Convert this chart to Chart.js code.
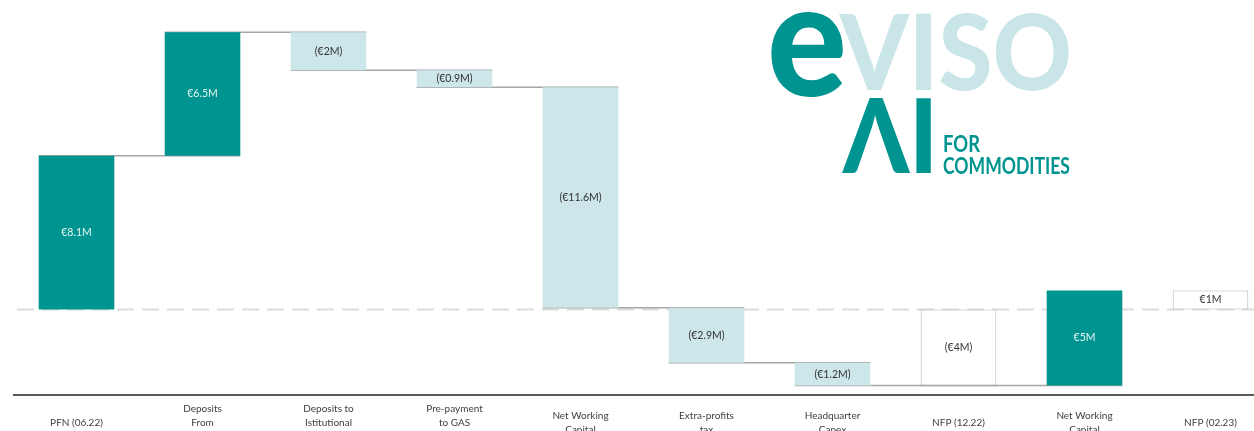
<!DOCTYPE html>
<html>
<head>
<meta charset="utf-8">
<script src="https://cdn.jsdelivr.net/npm/chart.js@4"></script>
<style>
html, body { margin: 0; padding: 0; overflow: hidden; background: #fff; }
#wrap { position: relative; width: 1275px; height: 431px; }
</style>
</head>
<body>
<div id="wrap"><canvas id="myChart"></canvas></div>
<script>
// waterfall steps, in millions of euro
var categories = [
    ['PFN (06.22)'],
    ['Deposits', 'From', ''],
    ['Deposits to', 'Istitutional', ''],
    ['Pre-payment', 'to GAS', ''],
    ['Net Working', 'Capital'],
    ['Extra-profits', 'tax'],
    ['Headquarter', 'Capex'],
    ['NFP (12.22)'],
    ['Net Working', 'Capital'],
    ['NFP (02.23)']
];
var changes = [8.1, 6.5, -2, -0.9, -11.6, -2.9, -1.2, -4, 5, 1];
var barKinds = ['up', 'up', 'down', 'down', 'down', 'down', 'down', 'total', 'up', 'total'];
var valueLabels = ['€8.1M', '€6.5M', '(€2M)', '(€0.9M)', '(€11.6M)', '(€2.9M)', '(€1.2M)', '(€4M)', '€5M', '€1M'];

var teal = '#009490';
var lightBlue = '#cde6ea';

// floating bar ranges from the running total
var ranges = [];
var running = 0;
changes.forEach(function(v, i) {
    if (barKinds[i] === 'total') {
        ranges.push([0, v]);
        running = v;
    } else {
        ranges.push([running, running + v]);
        running += v;
    }
});

var fillColors = barKinds.map(function(k) {
    return k === 'up' ? teal : (k === 'down' ? lightBlue : '#ffffff');
});
var edgeColors = barKinds.map(function(k) {
    return k === 'total' ? '#b5b5b5' : 'rgba(0,0,0,0)';
});
var edgeWidths = barKinds.map(function(k) {
    return k === 'total' ? 1 : 0;
});

function fitText(ctx, text, x, baseline, width, font, color) {
    ctx.font = font;
    var w = ctx.measureText(text).width;
    ctx.save();
    ctx.translate(x, baseline);
    ctx.scale(width / w, 1);
    ctx.fillStyle = color;
    ctx.textAlign = 'left';
    ctx.textBaseline = 'alphabetic';
    ctx.fillText(text, 0, 0);
    ctx.restore();
}

var waterfallExtras = {
    id: 'waterfallExtras',
    beforeDatasetsDraw: function(chart) {
        var ctx = chart.ctx;
        var y = chart.scales.y;
        var area = chart.chartArea;
        var meta = chart.getDatasetMeta(0);
        ctx.save();
        // dashed zero line
        var y0 = y.getPixelForValue(0);
        ctx.strokeStyle = '#dcdcdc';
        ctx.lineWidth = 2;
        ctx.setLineDash([17, 8]);
        ctx.beginPath();
        ctx.moveTo(17, y0);
        ctx.lineTo(area.right, y0);
        ctx.stroke();
        ctx.setLineDash([]);
        // connectors
        ctx.strokeStyle = '#a6a6a6';
        ctx.lineWidth = 1.5;
        for (var i = 0; i < 8; i++) {
            var a = meta.data[i], b = meta.data[i + 1];
            var py = y.getPixelForValue(ranges[i][1]);
            ctx.beginPath();
            ctx.moveTo(a.x - a.width / 2, py);
            ctx.lineTo(b.x + b.width / 2, py);
            ctx.stroke();
        }
        ctx.restore();
    },
    afterDatasetsDraw: function(chart) {
        var ctx = chart.ctx;
        var meta = chart.getDatasetMeta(0);
        ctx.save();
        ctx.font = '10.5px Lato';
        ctx.textAlign = 'center';
        ctx.textBaseline = 'middle';
        meta.data.forEach(function(bar, i) {
            ctx.fillStyle = barKinds[i] === 'up' ? '#e6f4f3' : '#333333';
            ctx.fillText(valueLabels[i], bar.x, (bar.y + bar.base) / 2);
        });
        ctx.restore();

        // logo
        fitText(ctx, 'e', 767, 96, 80, '900 160px Lato', teal);
        fitText(ctx, 'VISO', 840, 90, 232, '900 105px Lato', '#c9e5e8');
        fitText(ctx, 'ΛI', 843, 173, 95, '900 102px Lato, "DejaVu Sans"', teal);
        fitText(ctx, 'FOR', 943, 152, 37, '700 23px Lato', teal);
        fitText(ctx, 'COMMODITIES', 943, 174, 127, '700 23px Lato', teal);
    }
};

var ctx = document.getElementById('myChart').getContext('2d');
var myChart = new Chart(ctx, {
    type: 'bar',
    data: {
        labels: categories,
        datasets: [{
            data: ranges,
            backgroundColor: fillColors,
            borderColor: edgeColors,
            borderWidth: edgeWidths,
            borderSkipped: false,
            barPercentage: 0.6,
            categoryPercentage: 1
        }]
    },
    options: {
        responsive: true,
        maintainAspectRatio: false,
        animation: false,
        layout: { padding: { left: 13.5, right: 1.5, top: 0, bottom: 0 } },
        plugins: {
            legend: { display: false },
            tooltip: { enabled: false }
        },
        scales: {
            x: {
                grid: { display: false, drawTicks: false },
                border: { display: true, color: '#595959', width: 2 },
                ticks: {
                    font: { family: 'Lato', size: 10, lineHeight: 1.4 },
                    color: '#404040',
                    padding: 14,
                    crossAlign: 'center',
                    maxRotation: 0,
                    autoSkip: false
                },
                afterFit: function(scale) { scale.height = 36; }
            },
            y: {
                display: false,
                min: -4.5,
                max: 16.3
            }
        }
    },
    plugins: [waterfallExtras]
});
</script>
</body>
</html>
